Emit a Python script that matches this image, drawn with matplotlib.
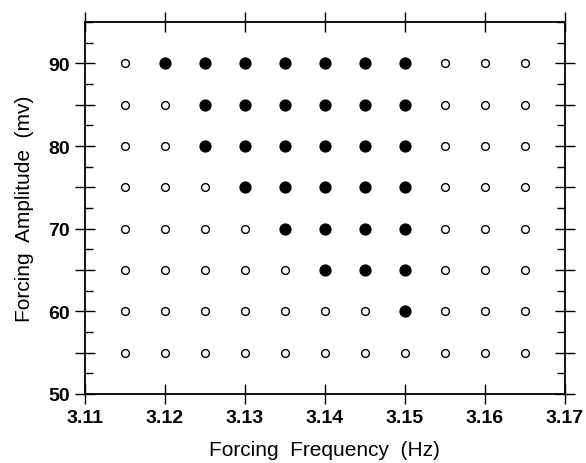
import numpy as np
import matplotlib.pyplot as plt
from matplotlib.ticker import MultipleLocator

plt.rcParams['font.family'] = ['Liberation Sans', 'DejaVu Sans']

# grid of forcing frequencies (Hz) and amplitudes (mv)
freqs = [3.115, 3.12, 3.125, 3.13, 3.135, 3.14, 3.145, 3.15, 3.155, 3.16, 3.165]
amps = [55, 60, 65, 70, 75, 80, 85, 90]

# lowest filled frequency for each amplitude (filled up to 3.15), None = no filled
filled_from = {90: 3.12, 85: 3.125, 80: 3.125, 75: 3.13, 70: 3.135,
               65: 3.14, 60: 3.15, 55: None}
filled_to = 3.15

xticks = [3.11, 3.12, 3.13, 3.14, 3.15, 3.16, 3.17]
xticklabels = ['3.11', '3.12', '3.13', '3.14', '3.15', '3.16', '3.17']
yticks = [50, 55, 60, 65, 70, 75, 80, 85, 90]
yticklabels = ['50', '', '60', '', '70', '', '80', '', '90']

fx, fy, ox, oy = [], [], [], []
for a in amps:
	lo = filled_from[a]
	for f in freqs:
		if lo is not None and lo - 1e-9 <= f <= filled_to + 1e-9:
			fx.append(f); fy.append(a)
		else:
			ox.append(f); oy.append(a)

fig = plt.figure(figsize=(5.86, 4.64), dpi=100)
ax = fig.add_axes([0.145, 0.149, 0.819, 0.801])

ax.plot(ox, oy, 'o', ms=5.6, mfc='white', mec='black', mew=1.0, ls='none')
ax.plot(fx, fy, 'o', ms=7.8, mfc='black', mec='black', ls='none')

ax.set_xlim(3.11, 3.17)
ax.set_ylim(50, 95)
ax.set_xticks(xticks)
ax.set_xticklabels(xticklabels)
ax.set_yticks(yticks)
ax.set_yticklabels(yticklabels)
ax.yaxis.set_minor_locator(MultipleLocator(2.5))

ax.tick_params(which='major', direction='inout', length=14, width=1.0,
			   top=True, right=True, labelsize=14, pad=4)
ax.tick_params(which='minor', direction='in', length=6, width=1.0,
			   top=True, right=True)
for lab in ax.get_xticklabels() + ax.get_yticklabels():
	lab.set_fontweight('bold')
for s in ax.spines.values():
	s.set_linewidth(1.3)

ax.set_xlabel('Forcing  Frequency  (Hz)', fontsize=15, labelpad=10)
ax.set_ylabel('Forcing  Amplitude  (mv)', fontsize=15, labelpad=10)

plt.savefig('out.png', dpi=100)
